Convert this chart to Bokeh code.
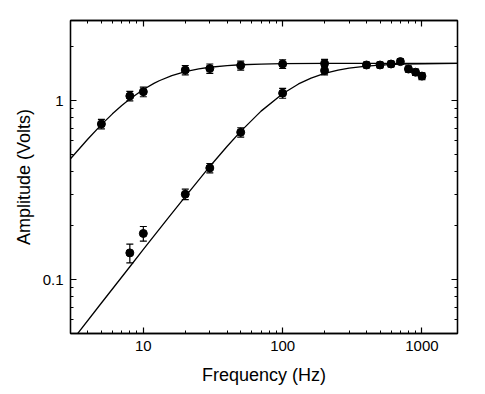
from bokeh.plotting import figure
from bokeh.models import (ColumnDataSource, Whisker, TeeHead, LogAxis, FixedTicker,
                          CustomJSTickFormatter, Range1d)
from bokeh.embed import file_html
from bokeh.resources import INLINE

# ---- data ----
freq_a = [5, 8, 10, 20, 30, 50, 100, 200]
amp_a = [0.74, 1.06, 1.12, 1.48, 1.51, 1.57, 1.60, 1.61]
err_a = [0.045, 0.065, 0.07, 0.09, 0.09, 0.09, 0.09, 0.09]

freq_b = [8, 10, 20, 30, 50, 100, 200, 400, 500, 600, 700, 800, 900, 1000]
amp_b = [0.141, 0.181, 0.30, 0.42, 0.665, 1.10, 1.47, 1.58, 1.58, 1.60, 1.65, 1.50, 1.44, 1.37]
err_b = [0.017, 0.017, 0.02, 0.025, 0.04, 0.07, 0.08, 0.06, 0.06, 0.06, 0.06, 0.06, 0.06, 0.06]

fit_a_freq = [3, 4, 5, 6, 7, 8, 10, 12, 13, 16, 20, 25, 30, 40, 50, 70, 100, 200, 500, 1800]
fit_a_amp = [0.473, 0.610, 0.734, 0.843, 0.938, 1.021, 1.153, 1.251, 1.290, 1.377, 1.450,
             1.504, 1.535, 1.569, 1.585, 1.599, 1.607, 1.613, 1.615, 1.615]

fit_b_freq = [3, 5, 8, 10, 15, 20, 30, 40, 50, 70, 100, 130, 160, 200, 250, 300, 400, 500,
              700, 1000, 1800]
fit_b_amp = [0.0444, 0.074, 0.118, 0.1475, 0.220, 0.291, 0.4285, 0.556, 0.673, 0.873, 1.092,
             1.238, 1.335, 1.418, 1.480, 1.518, 1.558, 1.578, 1.596, 1.605, 1.612]

x_major = [10, 100, 1000]
y_major = [0.1, 1]
x_label = "Frequency (Hz)"
y_label = "Amplitude (Volts)"

FONT = "Liberation Sans"

p = figure(width=475, height=390, x_axis_type="log", y_axis_type="log",
           x_range=Range1d(3, 1800), y_range=Range1d(0.05, 2.8),
           output_backend="svg", toolbar_location=None,
           min_border_left=70, min_border_right=18, min_border_top=20, min_border_bottom=57)
p.xgrid.visible = False
p.ygrid.visible = False
p.outline_line_color = "black"
p.outline_line_width = 1.3
p.background_fill_color = "white"
p.border_fill_color = "white"

x_minor = [m * 10.0 ** e for e in range(0, 4) for m in range(2, 10)]
y_minor = [m * 10.0 ** e for e in (-2, -1, 0) for m in range(2, 10)]
x_ticker = FixedTicker(ticks=x_major, minor_ticks=x_minor)
y_ticker = FixedTicker(ticks=y_major, minor_ticks=y_minor)
fmt = CustomJSTickFormatter(code="return String(parseFloat(tick.toPrecision(6)));")
empty = CustomJSTickFormatter(code="return '';")


def style(ax):
    ax.major_tick_in = 6
    ax.major_tick_out = 0
    ax.minor_tick_in = 3
    ax.minor_tick_out = 0
    ax.axis_line_color = "black"
    ax.axis_line_width = 1.3
    ax.major_tick_line_color = "black"
    ax.major_tick_line_width = 1.2
    ax.minor_tick_line_color = "black"
    ax.minor_tick_line_width = 1.0
    ax.major_label_text_font = FONT
    ax.major_label_text_font_size = "15px"
    ax.major_label_text_color = "black"
    ax.axis_label_text_font = FONT
    ax.axis_label_text_font_size = "18px"
    ax.axis_label_text_font_style = "normal"
    ax.axis_label_text_color = "black"


xa = p.xaxis[0]
ya = p.yaxis[0]
xa.ticker = x_ticker
ya.ticker = y_ticker
xa.formatter = fmt
ya.formatter = fmt
style(xa)
style(ya)
xa.axis_label = x_label
ya.axis_label = y_label
xa.major_label_standoff = 7
ya.major_label_standoff = 7
xa.axis_label_standoff = 11
ya.axis_label_standoff = 6

top = LogAxis(ticker=x_ticker, formatter=empty)
right = LogAxis(ticker=y_ticker, formatter=empty)
for ax in (top, right):
    style(ax)
    ax.major_label_text_font_size = "1px"
    ax.major_label_standoff = 0
p.add_layout(top, "above")
p.add_layout(right, "right")

# fit curves
p.line(fit_a_freq, fit_a_amp, line_color="black", line_width=1.3)
p.line(fit_b_freq, fit_b_amp, line_color="black", line_width=1.3)

for fr, am, er in ((freq_a, amp_a, err_a), (freq_b, amp_b, err_b)):
    src = ColumnDataSource(dict(x=fr, y=am,
                                upper=[a + e for a, e in zip(am, er)],
                                lower=[a - e for a, e in zip(am, er)]))
    w = Whisker(source=src, base="x", upper="upper", lower="lower",
                line_color="black", line_width=1.2,
                upper_head=TeeHead(size=7, line_color="black", line_width=1.2),
                lower_head=TeeHead(size=7, line_color="black", line_width=1.2))
    p.add_layout(w)
    p.scatter("x", "y", source=src, size=8, marker="circle",
              fill_color="black", line_color="black")

open("out.html", "w").write(file_html(p, INLINE))
